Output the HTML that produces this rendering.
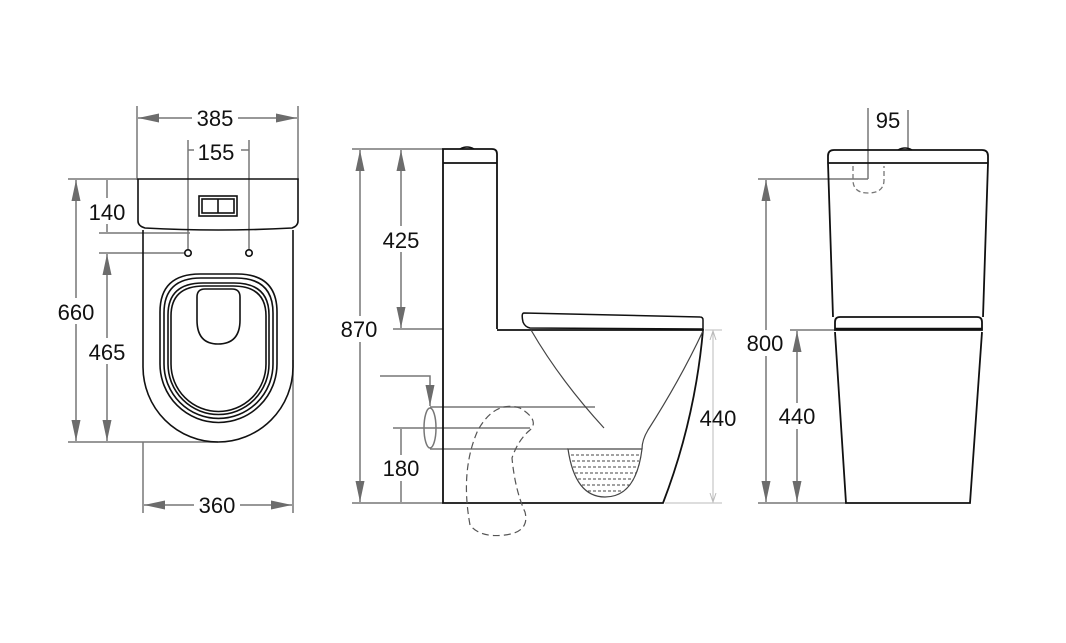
<!DOCTYPE html>
<html><head><meta charset="utf-8"><style>html,body{margin:0;padding:0;background:#fff}svg{display:block}text{font-family:"Liberation Sans",sans-serif;font-size:22px;fill:#111}</style></head>
<body>
<svg width="1066" height="643" viewBox="0 0 1066 643" xmlns="http://www.w3.org/2000/svg">
<defs>
<marker id="a" markerUnits="userSpaceOnUse" markerWidth="22" markerHeight="10" refX="21" refY="5" orient="auto-start-reverse"><path d="M0,0.5 L21,5 L0,9.5 z" fill="#6c6c6c"/></marker>
<marker id="b" markerUnits="userSpaceOnUse" markerWidth="10" markerHeight="8" refX="9" refY="4" orient="auto-start-reverse"><path d="M0,1 L9,4 L0,7" fill="none" stroke="#bbb"/></marker>
</defs>
<g stroke="#777" stroke-width="1.5" fill="none">
<!-- LEFT VIEW dims -->
<line x1="137" y1="106" x2="137" y2="180"/><line x1="298" y1="106" x2="298" y2="180"/>
<line x1="138" y1="118" x2="297" y2="118" marker-start="url(#a)" marker-end="url(#a)"/>
<line x1="188" y1="140" x2="188" y2="250"/><line x1="249" y1="140" x2="249" y2="250"/>
<line x1="188" y1="150" x2="196" y2="150"/><line x1="241" y1="150" x2="249" y2="150"/>
<line x1="68" y1="179" x2="138" y2="179"/><line x1="68" y1="442" x2="218" y2="442"/>
<line x1="76" y1="180" x2="76" y2="441" marker-start="url(#a)" marker-end="url(#a)"/>
<line x1="99" y1="233" x2="190" y2="233"/><line x1="107" y1="180" x2="107" y2="232"/>
<line x1="99" y1="253" x2="185" y2="253"/>
<line x1="107" y1="254" x2="107" y2="441" marker-start="url(#a)" marker-end="url(#a)"/>
<line x1="143" y1="442" x2="143" y2="513"/><line x1="293" y1="360" x2="293" y2="513"/>
<line x1="144" y1="505" x2="292" y2="505" marker-start="url(#a)" marker-end="url(#a)"/>
<!-- MIDDLE dims -->
<line x1="352" y1="149" x2="443" y2="149"/><line x1="352" y1="503" x2="443" y2="503"/>
<line x1="360" y1="150" x2="360" y2="502" marker-start="url(#a)" marker-end="url(#a)"/>
<line x1="393" y1="329" x2="443" y2="329"/>
<line x1="401" y1="150" x2="401" y2="328" marker-start="url(#a)" marker-end="url(#a)"/>
<line x1="393" y1="428" x2="530" y2="428"/>
<line x1="401" y1="429" x2="401" y2="502"/>
<line x1="430" y1="407" x2="595" y2="407"/>
<line x1="430" y1="449" x2="568" y2="449"/>
<polyline points="380,376 430,376 430,406" marker-end="url(#a)"/>
<ellipse cx="430" cy="428" rx="6" ry="20"/>
<!-- RIGHT dims -->
<line x1="868" y1="108" x2="868" y2="179"/><line x1="908" y1="110" x2="908" y2="148"/>
<line x1="758" y1="179" x2="868" y2="179"/><line x1="758" y1="503" x2="846" y2="503"/>
<line x1="766" y1="180" x2="766" y2="502" marker-start="url(#a)" marker-end="url(#a)"/>
<line x1="790" y1="330" x2="835" y2="330"/>
<line x1="797" y1="331" x2="797" y2="502" marker-start="url(#a)" marker-end="url(#a)"/>
</g>
<g stroke="#bbb" stroke-width="1" fill="none">
<line x1="705" y1="330" x2="722" y2="330"/><line x1="665" y1="503" x2="722" y2="503"/>
<line x1="713" y1="331" x2="713" y2="502" marker-start="url(#b)" marker-end="url(#b)"/>
</g>
<!-- labels with white backing -->
<g fill="#fff">
<rect x="192" y="106" width="46" height="24"/><rect x="194" y="140" width="44" height="24"/>
<rect x="56" y="298" width="40" height="26"/><rect x="86" y="198" width="42" height="26"/>
<rect x="86" y="338" width="42" height="26"/><rect x="194" y="493" width="46" height="24"/>
<rect x="338" y="316" width="42" height="26"/><rect x="380" y="226" width="42" height="26"/>
<rect x="380" y="455" width="42" height="26"/><rect x="874" y="108" width="28" height="24"/>
<rect x="745" y="330" width="40" height="26"/><rect x="776" y="403" width="42" height="26"/>
</g>
<text x="215" y="126" text-anchor="middle">385</text>
<text x="216" y="160" text-anchor="middle">155</text>
<text x="76" y="320" text-anchor="middle">660</text>
<text x="107" y="220" text-anchor="middle">140</text>
<text x="107" y="360" text-anchor="middle">465</text>
<text x="217" y="513" text-anchor="middle">360</text>
<text x="359" y="337" text-anchor="middle">870</text>
<text x="401" y="248" text-anchor="middle">425</text>
<text x="401" y="476" text-anchor="middle">180</text>
<text x="718" y="426" text-anchor="middle">440</text>
<text x="888" y="128" text-anchor="middle">95</text>
<text x="765" y="351" text-anchor="middle">800</text>
<text x="797" y="424" text-anchor="middle">440</text>
<!-- LEFT VIEW drawing -->
<g stroke="#111" stroke-width="1.6" fill="none">
<path d="M138,179 H298 V221 Q298,226 292,228 Q218,232 145,228 Q138,226 138,221 Z"/>
<rect x="199" y="196" width="38" height="20"/><rect x="202" y="199" width="32" height="14"/><line x1="218" y1="199" x2="218" y2="213"/>
<path d="M143,230 V367 A75,75 0 0 0 293,367 V230"/>
<circle cx="188" cy="253" r="3.2"/><circle cx="249" cy="253" r="3.2"/>
<path d="M160,364 V312 Q160,274 200,274 H237 Q277,274 277,312 V364 A58.5,58.5 0 0 1 160,364 Z"/>
<path d="M164,364 V313 Q164,278 201,278 H236 Q273,278 273,313 V364 A54.5,54.5 0 0 1 164,364 Z"/>
<path d="M168,364 V315 Q168,283 203,283 H234 Q269,283 269,315 V364 A50.5,50.5 0 0 1 168,364 Z"/>
<path d="M171,364 V316 Q171,286 204,286 H233 Q266,286 266,316 V364 A47.5,47.5 0 0 1 171,364 Z"/>
<path d="M197,297 Q197,289 205,289 H232 Q240,289 240,297 V320 Q240,344 218,344 Q197,344 197,320 Z"/>
</g>
<!-- MIDDLE drawing -->
<g stroke="#111" stroke-width="1.8" fill="none">
<path d="M443,329 V149 H492 Q497,149 497,154 V329"/>
<line x1="443" y1="163" x2="497" y2="163"/>
<path d="M460,149 Q467,145 474,149" stroke-width="1.4"/>
<path d="M443,329 V503 H663 Q695,420 703,330 H497"/>
<path d="M524,313 Q521,313 523,322 Q525,327 530,328 L703,329 V320 Q703,317 700,317 Z" stroke-width="1.5"/>
</g>
<g stroke="#444" stroke-width="1.2" fill="none">
<path d="M531,330 Q560,380 604,428"/>
<path d="M703,331 Q680,380 648,430 Q642,440 642,449"/>
<path d="M568,449 Q575,497 605,497 Q636,497 642,449 Z"/>
<g stroke-dasharray="3,2" stroke-width="1"><line x1="571" y1="455" x2="640" y2="455"/><line x1="572" y1="461" x2="639" y2="461"/><line x1="573" y1="467" x2="638" y2="467"/><line x1="575" y1="473" x2="636" y2="473"/><line x1="578" y1="479" x2="633" y2="479"/><line x1="582" y1="485" x2="629" y2="485"/><line x1="588" y1="491" x2="622" y2="491"/></g>
<path d="M470,525 Q460,470 478,430 Q495,400 520,408 Q540,420 530,430 Q518,440 512,458 Q515,490 525,512 Q530,532 505,535 Q480,538 470,525" stroke-dasharray="7,4" stroke="#555"/>
</g>
<!-- RIGHT drawing -->
<g stroke="#111" stroke-width="1.8" fill="none">
<path d="M833,317 L828,163 V156 Q828,150 834,150 H982 Q988,150 988,156 V163 L983,317"/>
<line x1="828" y1="163" x2="988" y2="163"/>
<path d="M898,150 Q905,146 912,150" stroke-width="1.4"/>
<path d="M835,330 V322 Q835,317 840,317 H977 Q982,317 982,322 V330 Z"/>
<line x1="835" y1="329" x2="982" y2="329" stroke-width="2.5"/>
<path d="M835,332 L846,503 H970 L982,332"/>
</g>
<path d="M853,166 V180 Q853,193 868,193 Q884,193 884,180 V166" stroke="#777" stroke-width="1.3" fill="none" stroke-dasharray="5,3"/>
</svg>
</body></html>
